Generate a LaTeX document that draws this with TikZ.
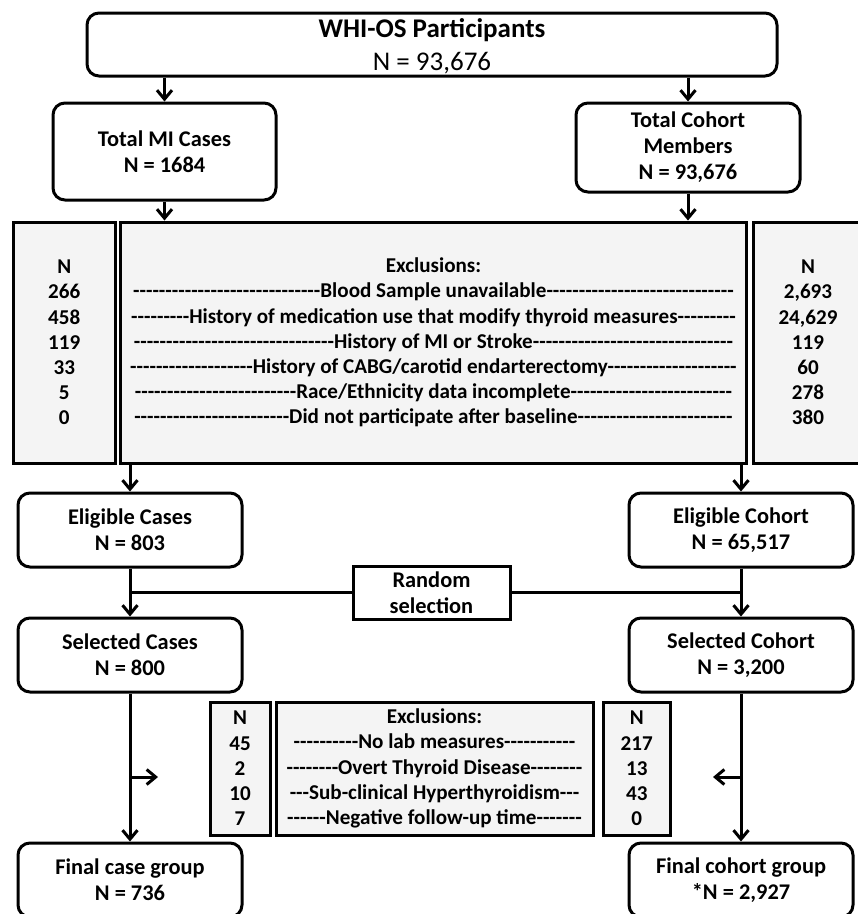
\documentclass[tikz,border=0pt]{standalone}
\usepackage{fontspec}
\setmainfont{Carlito}[Ligatures=TeXOff]
\usetikzlibrary{arrows.meta}
\definecolor{xgray}{HTML}{F4F4F4}
\ExplSyntaxOn
\cs_new:Npn \dashrun #1 {\prg_replicate:nn{#1}{-}}
\ExplSyntaxOff
\tikzset{
  rbox/.style={draw, line width=3pt, rounded corners=12pt, fill=white, align=center,
    font=\fontsize{22.4}{26}\selectfont\bfseries, inner sep=0pt},
  xbox/.style={draw, line width=3pt, fill=xgray, align=center,
    font=\fontsize{21.1}{25.2}\selectfont\bfseries, inner sep=0pt},
  conn/.style={line width=3pt},
  arr/.style={conn, -{Straight Barb[length=9pt,width=15pt]}},
}
\begin{document}
\begin{tikzpicture}[x=1pt, y=-1pt]
\useasboundingbox (0,0) rectangle (858,914);
% top
\node[rbox, font=\fontsize{27}{33.5}\selectfont, minimum width=690, minimum height=63] (whi) at (432,44.5)
  {\rule{0pt}{22pt}{\bfseries WHI-OS Participants}\\N = 93,676};
\node[rbox, minimum width=223, minimum height=97] (tmi) at (164.5,151.5) {Total MI Cases\\N = 1684};
\node[rbox, minimum width=224, minimum height=89] (tco) at (688,147.5) {Total Cohort\\Members\\N = 93,676};
% big exclusions
\node[xbox, minimum width=102.5, minimum height=241] (exl) at (64.25,342.5)
  {N\\266\\458\\119\\33\\5\\0};
\node[xbox, minimum width=626, minimum height=241] (exc) at (433.5,342.5)
  {Exclusions:\\
   \dashrun{29}Blood Sample unavailable\dashrun{29}\\
   \dashrun{9}History of medication use that modify thyroid measures\dashrun{9}\\
   \dashrun{31}History of MI or Stroke\dashrun{31}\\
   \dashrun{19}History of CABG/carotid endarterectomy\dashrun{20}\\
   \dashrun{25}Race/Ethnicity data incomplete\dashrun{25}\\
   \dashrun{24}Did not participate after baseline\dashrun{24}};
\node[xbox, minimum width=110, minimum height=241] (exr) at (808,342.5)
  {N\\2,693\\24,629\\119\\60\\278\\380};
% eligible
\node[rbox, minimum width=224, minimum height=74] (elc) at (130,530) {Eligible Cases\\N = 803};
\node[rbox, minimum width=224, minimum height=74] (eco) at (741,530) {Eligible Cohort\\N = 65,517};
\node[rbox, rounded corners=0pt, minimum width=157, minimum height=53] (rnd) at (431.5,592.5)
  {Random\\selection};
% selected
\node[rbox, minimum width=224, minimum height=74] (slc) at (130,655) {Selected Cases\\N = 800};
\node[rbox, minimum width=224, minimum height=74] (sco) at (741,655) {Selected Cohort\\N = 3,200};
% lower exclusions
\node[xbox, minimum width=60, minimum height=133] (lxl) at (240,768.5) {N\\45\\2\\10\\7};
\node[xbox, minimum width=317, minimum height=133] (lxc) at (434.5,768.5)
  {Exclusions:\\
   \dashrun{10}No lab measures\dashrun{11}\\
   \dashrun{8}Overt Thyroid Disease\dashrun{8}\\
   \dashrun{3}Sub-clinical Hyperthyroidism\dashrun{3}\\
   \dashrun{6}Negative follow-up time\dashrun{7}};
\node[xbox, minimum width=66.5, minimum height=133] (lxr) at (636.75,768.5) {N\\217\\13\\43\\0};
% final
\node[rbox, minimum width=224, minimum height=74] (fcs) at (130,880) {Final case group\\N = 736};
\node[rbox, minimum width=224, minimum height=74] (fco) at (741,880) {Final cohort group\\*N = 2,927};
% connectors
\draw[arr] (whi.south -| tmi.north) -- (tmi.north);
\draw[arr] (whi.south -| tco.north) -- (tco.north);
\draw[arr] (tmi.south) -- (tmi.south |- exc.north);
\draw[arr] (tco.south) -- (tco.south |- exc.north);
\draw[arr] (exc.south -| elc.north) -- (elc.north);
\draw[arr] (exc.south -| eco.north) -- (eco.north);
\draw[arr] (elc.south) -- (slc.north);
\draw[arr] (eco.south) -- (sco.north);
\draw[conn] (rnd.west) -- (rnd.west -| elc.south);
\draw[conn] (rnd.east) -- (rnd.east -| eco.south);
\draw[arr] (slc.south) -- (fcs.north);
\draw[arr] (sco.south) -- (fco.north);
\coordinate (blt) at (158,777);
\coordinate (brt) at (713,777);
\draw[arr] (slc.south |- blt) -- (blt);
\draw[arr] (sco.south |- brt) -- (brt);
\end{tikzpicture}
\end{document}
